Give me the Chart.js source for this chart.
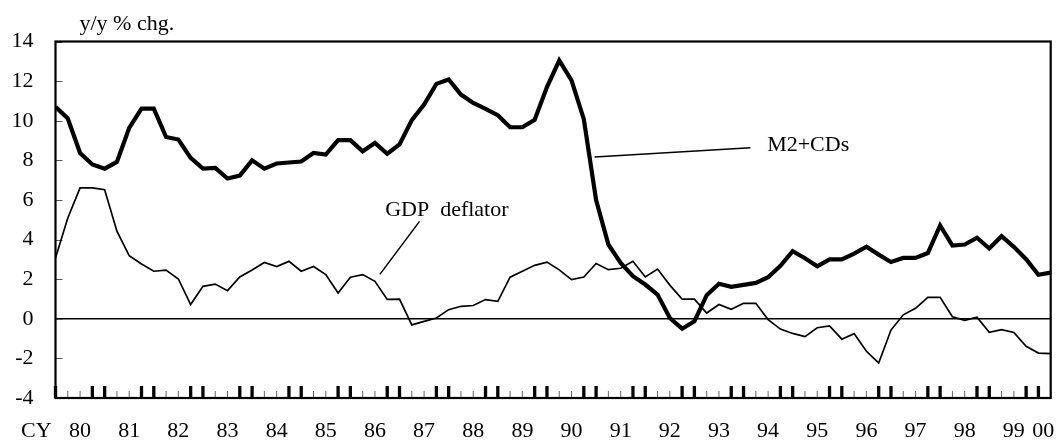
<!DOCTYPE html>
<html><head><meta charset="utf-8">
<script src="https://cdn.jsdelivr.net/npm/chart.js@4.4.1/dist/chart.umd.min.js"></script>
<style>html,body{margin:0;padding:0;background:#fff}#wrap{width:1060px;height:442px;position:relative}</style>
</head><body><div id="wrap"><canvas id="c"></canvas></div>
<script>
// ---- data ----
const yearLabels = ['80','81','82','83','84','85','86','87','88','89','90','91','92','93','94','95','96','97','98','99','00'];
const quarterNames = ['Q1','Q2','Q3','Q4'];
// categories: 1980Q1 ... 2000Q2 (82 quarters)
const categories = [];
for (let y = 0; y < yearLabels.length; y++) {
  for (let q = 0; q < 4; q++) {
    if (y === yearLabels.length - 1 && q > 1) break;
    categories.push(yearLabels[y] + quarterNames[q]);
  }
}
const m2cds = [10.70,10.11,8.37,7.79,7.58,7.92,9.64,10.61,10.61,9.18,9.05,8.12,7.58,7.62,7.08,7.23,8.00,7.58,7.84,7.89,
  7.94,8.37,8.29,9.02,9.02,8.46,8.88,8.33,8.80,10.03,10.82,11.86,12.08,11.32,10.90,10.60,10.28,9.67,9.67,10.05,
  11.70,13.04,12.04,10.08,6.00,3.75,2.82,2.15,1.73,1.22,0.04,-0.50,-0.13,1.19,1.77,1.61,1.71,1.81,2.10,2.67,
  3.41,3.06,2.65,3.00,3.00,3.29,3.64,3.24,2.87,3.07,3.07,3.32,4.71,3.70,3.75,4.09,3.55,4.17,3.63,3.01,2.22,2.33];
const gdpDeflator = [3.07,5.09,6.61,6.61,6.52,4.42,3.19,2.77,2.40,2.46,2.01,0.72,1.64,1.75,1.42,2.11,2.46,2.84,2.64,2.90,
  2.40,2.64,2.23,1.30,2.10,2.23,1.89,0.98,0.99,-0.31,-0.13,0.04,0.46,0.63,0.67,0.97,0.88,2.10,2.40,2.70,
  2.86,2.47,1.98,2.11,2.79,2.48,2.55,2.90,2.11,2.51,1.70,0.99,0.99,0.29,0.72,0.48,0.78,0.78,-0.04,-0.52,
  -0.74,-0.90,-0.45,-0.36,-1.03,-0.75,-1.64,-2.23,-0.57,0.20,0.53,1.08,1.08,0.10,-0.08,0.08,-0.68,-0.55,-0.69,-1.39,-1.73,-1.76];
const yTickValues = [-4,-2,0,2,4,6,8,10,12,14];
const yAxisTitle = 'y/y % chg.';
const xAxisPrefix = 'CY';
const seriesNames = ['M2+CDs', 'GDP  deflator'];

// ---- rendering ----
const FONT = "'Liberation Serif', 'Times New Roman', serif";
const lastIdx = categories.length - 1;
// year label positions: third quarter of each year; last one squeezed inside the frame
const yearPos = yearLabels.map((_, k) => Math.min(4 * k + 2, lastIdx - 0.6));

const toXY = arr => arr.map((v, i) => ({x: i, y: v}));

const framePlugin = {
  id: 'frame',
  beforeDatasetsDraw(chart) {
    const {ctx, chartArea: a, scales: {x, y}} = chart;
    ctx.save();
    // zero line
    ctx.strokeStyle = '#000'; ctx.lineWidth = 1.6;
    const y0 = y.getPixelForValue(0);
    ctx.beginPath(); ctx.moveTo(a.left, y0); ctx.lineTo(a.right, y0); ctx.stroke();
    // inner y ticks
    ctx.strokeStyle = '#555'; ctx.lineWidth = 1;
    yTickValues.forEach(v => {
      const py = Math.round(y.getPixelForValue(v)) + 0.5;
      ctx.beginPath(); ctx.moveTo(a.left, py); ctx.lineTo(a.left + 7, py); ctx.stroke();
    });
    // quarterly x ticks (Q4 & Q1 thick)
    categories.forEach((c, i) => {
      const px = x.getPixelForValue(i);
      const thick = (i % 4 === 0 || i % 4 === 3);
      ctx.strokeStyle = thick ? '#000' : '#666';
      ctx.lineWidth = thick ? 3.3 : 1;
      ctx.beginPath(); ctx.moveTo(px, a.bottom); ctx.lineTo(px, a.bottom - (thick ? 12 : 7)); ctx.stroke();
    });
    // frame
    ctx.strokeStyle = '#000'; ctx.lineWidth = 2.2;
    ctx.strokeRect(a.left, a.top, a.right - a.left, a.bottom - a.top);
    ctx.restore();
  },
  afterDatasetsDraw(chart) {
    const {ctx, chartArea: a, scales: {x, y}} = chart;
    ctx.save();
    ctx.fillStyle = '#000';
    ctx.font = '22px ' + FONT;
    ctx.textBaseline = 'alphabetic';
    ctx.textAlign = 'left';
    ctx.fillText(yAxisTitle, a.left + 24, a.top - 12);
    ctx.fillText(xAxisPrefix, 21, a.bottom + 39);
    // annotations (data coordinates)
    ctx.fillText(seriesNames[0], x.getPixelForValue(57.92), y.getPixelForValue(8.45));
    ctx.fillText(seriesNames[1], x.getPixelForValue(26.83), y.getPixelForValue(5.18));
    ctx.strokeStyle = '#000'; ctx.lineWidth = 1.5;
    ctx.beginPath();
    ctx.moveTo(x.getPixelForValue(43.88), y.getPixelForValue(8.17));
    ctx.lineTo(x.getPixelForValue(56.56), y.getPixelForValue(8.63));
    ctx.moveTo(x.getPixelForValue(29.63), y.getPixelForValue(4.92));
    ctx.lineTo(x.getPixelForValue(26.4), y.getPixelForValue(2.24));
    ctx.stroke();
    ctx.restore();
  }
};

new Chart(document.getElementById('c'), {
  type: 'line',
  data: {
    datasets: [
      {label: seriesNames[0], data: toXY(m2cds), borderColor: '#000', borderWidth: 4.2, pointRadius: 0, tension: 0, fill: false, borderJoinStyle: 'miter'},
      {label: seriesNames[1], data: toXY(gdpDeflator), borderColor: '#000', borderWidth: 1.7, pointRadius: 0, tension: 0, fill: false}
    ]
  },
  options: {
    responsive: true, maintainAspectRatio: false, animation: false,
    layout: {padding: {top: 41.5, right: 9.3, left: 0, bottom: 0}},
    plugins: {legend: {display: false}, tooltip: {enabled: false}, title: {display: false}},
    scales: {
      x: {
        type: 'linear', min: 0, max: lastIdx,
        afterBuildTicks: axis => { axis.ticks = yearPos.map(v => ({value: v})); },
        afterFit: s => { s.height = 44; s.paddingLeft = 0; s.paddingRight = 0; },
        grid: {display: false, drawTicks: false},
        border: {display: false},
        ticks: {autoSkip: false, maxRotation: 0, padding: 20, color: '#000', font: {family: FONT, size: 22},
          callback: (v, i) => yearLabels[i]}
      },
      y: {
        min: -4, max: 14,
        afterBuildTicks: axis => { axis.ticks = yTickValues.map(v => ({value: v})); },
        afterFit: s => { s.width = 55.5; s.paddingTop = 0; s.paddingBottom = 0; },
        grid: {display: false, drawTicks: false},
        border: {display: false},
        ticks: {padding: 22, color: '#000', font: {family: FONT, size: 22}}
      }
    }
  },
  plugins: [framePlugin]
});
</script></body></html>
